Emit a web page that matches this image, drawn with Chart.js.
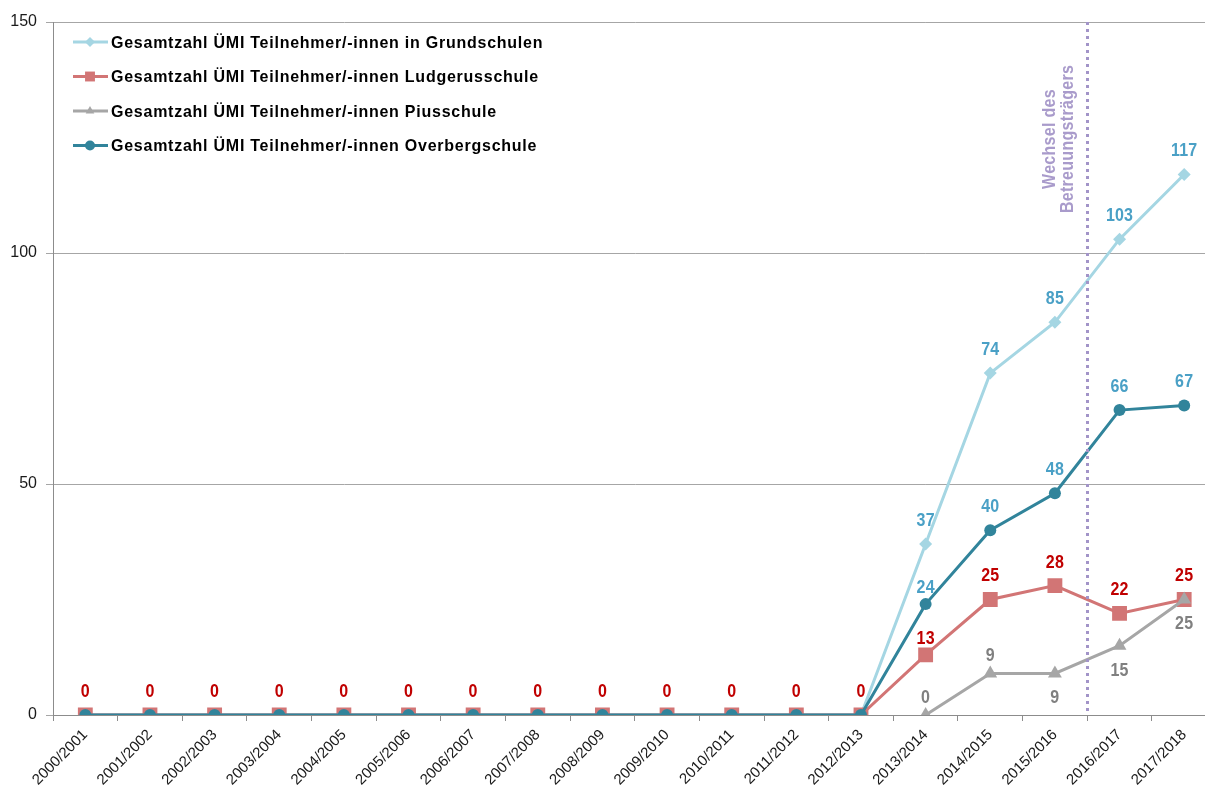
<!DOCTYPE html>
<html>
<head>
<meta charset="utf-8">
<script src="https://cdn.jsdelivr.net/npm/chart.js@4.4.1/dist/chart.umd.min.js"></script>
<style>
    html, body { margin: 0; padding: 0; background: #fff; overflow: hidden; }
    #wrap { width: 1205px; height: 794px; overflow: hidden; position: relative; }
    #chart { position: absolute; left: 0; top: 0; }
</style>
</head>
<body>
<div id="wrap"><canvas id="chart" width="1227" height="794"></canvas></div>
<script>
const jahre = ["2000/2001", "2001/2002", "2002/2003", "2003/2004", "2004/2005", "2005/2006",
    "2006/2007", "2007/2008", "2008/2009", "2009/2010", "2010/2011", "2011/2012", "2012/2013",
    "2013/2014", "2014/2015", "2015/2016", "2016/2017", "2017/2018"];

const grundschulen = [0, 0, 0, 0, 0, 0, 0, 0, 0, 0, 0, 0, 0, 37, 74, 85, 103, 117];
const ludgerus     = [0, 0, 0, 0, 0, 0, 0, 0, 0, 0, 0, 0, 0, 13, 25, 28, 22, 25];
const pius         = [null, null, null, null, null, null, null, null, null, null, null, null, null, 0, 9, 9, 15, 25];
const overberg     = [0, 0, 0, 0, 0, 0, 0, 0, 0, 0, 0, 0, 0, 24, 40, 48, 66, 67];

const yTicks = [0, 50, 100, 150];
const namen = [
    "Gesamtzahl ÜMI Teilnehmer/-innen in Grundschulen",
    "Gesamtzahl ÜMI Teilnehmer/-innen Ludgerusschule",
    "Gesamtzahl ÜMI Teilnehmer/-innen Piusschule",
    "Gesamtzahl ÜMI Teilnehmer/-innen Overbergschule"
];
const wechselText = ["Wechsel des", "Betreuungsträgers"];
const wechselNach = 15.5; // zwischen 2015/2016 und 2016/2017

const FONT = "'Liberation Sans', Arial, sans-serif";

// wo das Label relativ zum Punkt sitzt (px, negativ = oben)
function labelDy(di, i) {
    if (di === 2) return i <= 14 ? -17 : 25;
    if (i === 13 && (di === 1 || di === 3)) return -16;
    return -23;
}

// Text etwas hoeher gezogen, wie im Original
function stretchText(ctx, t, x, y, sy) {
    ctx.save();
    ctx.translate(x, y);
    ctx.scale(1, sy);
    ctx.fillText(t, 0, 0);
    ctx.restore();
}

const extras = {
    id: "extras",
    beforeInit(c) {
        c.ctx.letterSpacing = "0.5px";
    },
    afterDatasetsDraw(c) {
        const ctx = c.ctx;
        const x = c.scales.x, y = c.scales.y;

        // gepunktete Linie
        const lx = Math.round(x.getPixelForValue(wechselNach)) + 0.5;
        ctx.save();
        ctx.strokeStyle = "#a294c8";
        ctx.lineWidth = 3;
        ctx.setLineDash([3, 4]);
        ctx.beginPath();
        ctx.moveTo(lx, y.getPixelForValue(150));
        ctx.lineTo(lx, y.getPixelForValue(0));
        ctx.stroke();
        ctx.setLineDash([]);

        ctx.fillStyle = "#a99bcb";
        ctx.font = "bold 16px " + FONT;
        ctx.letterSpacing = "0.3px";
        ctx.textAlign = "center";
        ctx.textBaseline = "middle";
        ctx.translate(lx, 139);
        ctx.rotate(-Math.PI / 2);
        stretchText(ctx, wechselText[0], 0, -38, 1.15);
        stretchText(ctx, wechselText[1], 0, -20, 1.15);
        ctx.restore();

        // Datenbeschriftungen
        const farben = ["#4aa0c6", "#c00000", "#808080", "#4aa0c6"];
        ctx.save();
        ctx.font = "bold 16px " + FONT;
        ctx.letterSpacing = "0.2px";
        ctx.textAlign = "center";
        ctx.textBaseline = "middle";
        c.data.datasets.forEach((ds, di) => {
            const meta = c.getDatasetMeta(di);
            ds.data.forEach((v, i) => {
                if (v === null) return;
                if ((di === 0 || di === 3) && v === 0) return;
                const p = meta.data[i];
                ctx.fillStyle = farben[di];
                stretchText(ctx, String(v), p.x, p.y + labelDy(di, i), 1.12);
            });
        });
        ctx.restore();

        // Legende
        ctx.save();
        c.data.datasets.forEach((ds, di) => {
            const ly = 42 + di * 34.5;
            ctx.strokeStyle = ds.borderColor;
            ctx.lineWidth = 3;
            ctx.beginPath();
            ctx.moveTo(73, ly);
            ctx.lineTo(108, ly);
            ctx.stroke();
            ctx.fillStyle = ds.borderColor;
            const r = ds.pointStyle === "rect" ? 7 : 5;
            Chart.helpers.drawPoint(ctx, { pointStyle: ds.pointStyle, radius: r, rotation: 0, borderWidth: 0 }, 90, ly);
            ctx.fillStyle = "#000";
            ctx.font = "bold 16px " + FONT;
            ctx.letterSpacing = "0.75px";
            ctx.textAlign = "left";
            ctx.textBaseline = "middle";
            stretchText(ctx, namen[di], 111, ly + 1, 1.05);
        });
        ctx.restore();
    }
};

function serie(name, data, color, style, radius, order) {
    return {
        label: name,
        data: data,
        borderColor: color,
        backgroundColor: color,
        borderWidth: 3,
        pointStyle: style,
        pointRadius: radius,
        pointBorderWidth: 0,
        pointBackgroundColor: color,
        tension: 0,
        order: order
    };
}

new Chart(document.getElementById("chart"), {
    type: "line",
    data: {
        labels: jahre,
        datasets: [
            serie(namen[0], grundschulen, "#a5d6e3", "rectRot", 6.5, 3),
            serie(namen[1], ludgerus, "#d27575", "rect", 10.5, 2),
            serie(namen[2], pius, "#a6a6a6", "triangle", 8, 1),
            serie(namen[3], overberg, "#31849b", "circle", 6, 0)
        ]
    },
    options: {
        responsive: false,
        animation: false,
        layout: { padding: { top: 22, right: 2, left: 0, bottom: 0 } },
        plugins: { legend: { display: false }, tooltip: { enabled: false } },
        scales: {
            x: {
                offset: true,
                afterFit: s => { s.height = 79; },
                grid: { offset: true, drawOnChartArea: false, drawTicks: true, tickLength: 6, color: "#8c8c8c" },
                border: { color: "#8c8c8c", width: 1 },
                ticks: {
                    minRotation: 45, maxRotation: 45, autoSkip: false,
                    color: "#1a1a1a", padding: 5,
                    font: { family: FONT, size: 15 }
                }
            },
            y: {
                min: 0, max: 150,
                afterFit: s => { s.width = 53; },
                afterBuildTicks: s => { s.ticks = yTicks.map(v => ({ value: v })); },
                grid: { color: "#a6a6a6", tickLength: 7, drawTicks: true },
                border: { color: "#8c8c8c", width: 1 },
                ticks: {
                    color: "#1a1a1a", padding: 9,
                    font: { family: FONT, size: 16 }
                }
            }
        }
    },
    plugins: [extras]
});
</script>
</body>
</html>
